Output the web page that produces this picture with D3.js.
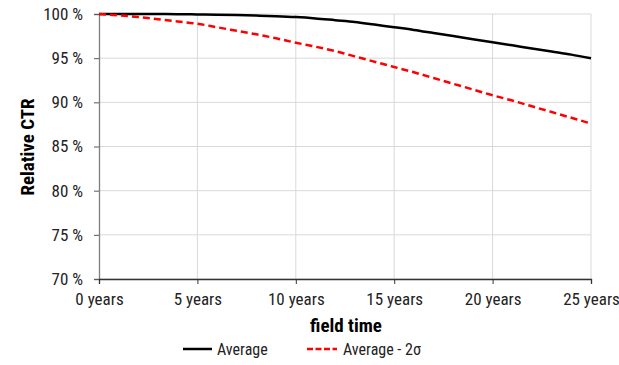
<!DOCTYPE html>
<html><head><meta charset="utf-8">
<script src="https://cdn.jsdelivr.net/npm/d3@7"></script>
<style>
body{margin:0;background:#fff;}
svg text{font-family:"Liberation Sans Narrow","Roboto Condensed","Arial Narrow",sans-serif;}
</style></head>
<body><svg id="c" width="619" height="365"></svg>
<script>
const years = d3.range(0, 26);
const averageValues = [100,100,100,99.99,99.98,99.95,99.92,99.88,99.82,99.75,99.65,99.5,99.3,99.1,98.8,98.5,98.2,97.85,97.5,97.15,96.8,96.45,96.1,95.75,95.4,95.0];
const average2sValues = [100,99.85,99.65,99.4,99.15,98.9,98.5,98.1,97.7,97.25,96.75,96.3,95.8,95.2,94.6,94.0,93.4,92.75,92.1,91.45,90.8,90.2,89.55,88.9,88.25,87.6];
const xTicks = [0,5,10,15,20,25];
const yTicks = [70,75,80,85,90,95,100];
const seriesNames = ["Average","Average - 2σ"];

const svg = d3.select("#c");
const x = d3.scaleLinear().domain([0,25]).range([99,591]);
const y = d3.scaleLinear().domain([70,100]).range([279,14]);

svg.append("g").selectAll("line.h").data(yTicks).join("line")
  .attr("x1",x(0)).attr("x2",x(25)).attr("y1",d=>y(d)).attr("y2",d=>y(d))
  .attr("stroke","#d9d9d9").attr("stroke-width",1);
svg.append("g").selectAll("line.v").data(xTicks.slice(1)).join("line")
  .attr("x1",d=>x(d)).attr("x2",d=>x(d)).attr("y1",y(70)).attr("y2",y(100))
  .attr("stroke","#d9d9d9").attr("stroke-width",1);

const ya = svg.append("g").attr("transform",`translate(${x(0)},0)`)
  .call(d3.axisLeft(y).tickValues(yTicks).tickSize(5).tickPadding(11).tickFormat(d=>d+" %"));
ya.select(".domain").attr("stroke","#7f7f7f").attr("stroke-width",1.3);
ya.selectAll(".tick line").attr("stroke","#595959");
ya.selectAll("text").attr("font-size",17).attr("fill","#222")
  .attr("font-family",'"Liberation Sans Narrow",sans-serif');

const xa = svg.append("g").attr("transform",`translate(0,${y(70)})`)
  .call(d3.axisBottom(x).tickValues(xTicks).tickSize(5).tickPadding(9).tickFormat(d=>d+" years"));
xa.select(".domain").attr("stroke","#333").attr("stroke-width",1.3);
xa.selectAll(".tick line").attr("stroke","#333");
xa.selectAll("text").attr("font-size",17).attr("fill","#222")
  .attr("font-family",'"Liberation Sans Narrow",sans-serif');

svg.append("text").attr("transform","translate(34,147) rotate(-90)")
  .attr("text-anchor","middle").attr("font-weight","bold").attr("font-size",19).text("Relative CTR");
svg.append("text").attr("x",346).attr("y",332)
  .attr("text-anchor","middle").attr("font-weight","bold").attr("font-size",19).text("field time");

const line = d3.line().x((d,i)=>x(years[i])).y(d=>y(d)).curve(d3.curveMonotoneX);
svg.append("path").attr("d",line(averageValues)).attr("fill","none")
  .attr("stroke","#000").attr("stroke-width",2.5);
svg.append("path").attr("d",line(average2sValues)).attr("fill","none")
  .attr("stroke","#ff0000").attr("stroke-width",2.5).attr("stroke-dasharray","7,4");

const lg = svg.append("g");
lg.append("line").attr("x1",183).attr("x2",212).attr("y1",349).attr("y2",349)
  .attr("stroke","#000").attr("stroke-width",2.5);
lg.append("text").attr("x",217).attr("y",355).attr("font-size",16).attr("fill","#222").text(seriesNames[0]);
lg.append("line").attr("x1",307).attr("x2",337).attr("y1",349).attr("y2",349)
  .attr("stroke","#ff0000").attr("stroke-width",2.5).attr("stroke-dasharray","6,2.5");
lg.append("text").attr("x",343).attr("y",355).attr("font-size",16).attr("fill","#222").text(seriesNames[1]);
</script></body></html>
